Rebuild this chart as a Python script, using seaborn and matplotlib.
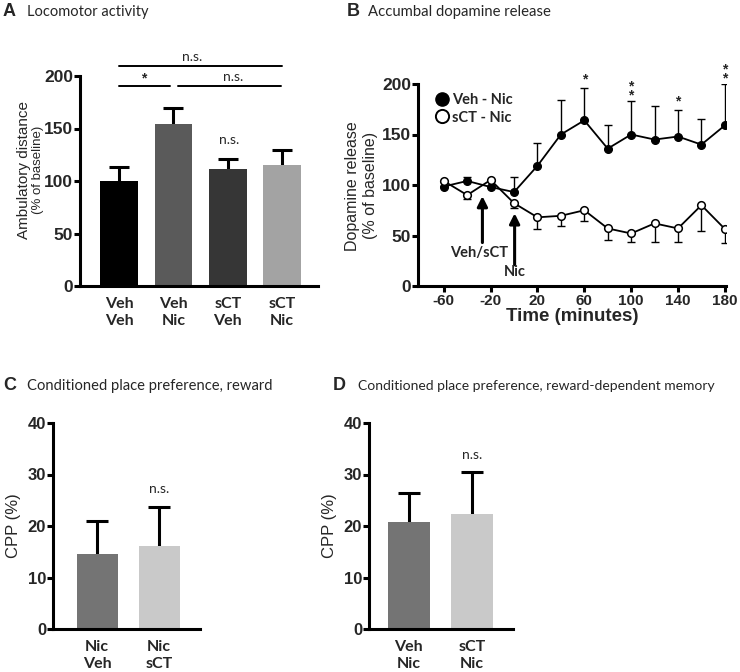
import numpy as np
import pandas as pd
import matplotlib
matplotlib.use("Agg")
import matplotlib.pyplot as plt
import seaborn as sns
from matplotlib.lines import Line2D

# ---------------- data ----------------
# Panel A: locomotor activity
loco_labels = ["Veh\nVeh", "Veh\nNic", "sCT\nVeh", "sCT\nNic"]
loco_mean = [100, 154, 111, 115]
loco_sem = [13, 16, 10, 15]
loco_colors = ["#000000", "#5a5a5a", "#363636", "#a3a3a3"]

# Panel B: accumbal dopamine release
time_min = [-60, -40, -20, 0, 20, 40, 60, 80, 100, 120, 140, 160, 180]
veh_nic_mean = [98.5, 104, 98, 93, 119, 150, 164, 136, 150, 145, 148, 140, 159]
veh_nic_sem = [1, 4, 1, 15, 23, 34, 32, 23, 33, 33, 26.5, 25.5, 41]
sct_nic_mean = [104, 90, 105, 82, 68, 69.5, 75, 57, 52, 62, 57, 80, 56.5]
sct_nic_sem = [1, 4, 1, 5, 12, 10, 11, 11, 8, 18, 13, 26, 13.5]
b_xticks = [-60, -20, 20, 60, 100, 140, 180]
b_yticks = [0, 50, 100, 150, 200]
star_times = [60, 100, 140, 180]
star_texts = ["*", "*\n*", "*", "*\n*"]

# Panel C: CPP reward
cppC_labels = ["Nic\nVeh", "Nic\nsCT"]
cppC_mean = [14.5, 16.1]
cppC_sem = [6.4, 7.5]
# Panel D: CPP reward-dependent memory
cppD_labels = ["Veh\nNic", "sCT\nNic"]
cppD_mean = [20.7, 22.4]
cppD_sem = [5.7, 8.1]
cpp_colors = ["#747474", "#c9c9c9"]

# ---------------- style ----------------
sns.set_theme(style="white")
plt.rcParams["font.family"] = ["Liberation Sans", "DejaVu Sans"]
ARIAL = "Liberation Sans"
CAL = "Lato"
LW = 2.2

W, H = 740, 672
fig = plt.figure(figsize=(W / 100, H / 100), dpi=100)
fig.patch.set_facecolor("white")


def px_axes(left, right, top, bottom):
    return fig.add_axes([left / W, 1 - bottom / H, (right - left) / W, (bottom - top) / H])


def style_axes(ax, xticks_on=False):
    for s in ["top", "right"]:
        ax.spines[s].set_visible(False)
    for s in ["left", "bottom"]:
        ax.spines[s].set_linewidth(LW)
        ax.spines[s].set_color("black")
        ax.spines[s].set_zorder(5)
    ax.set_facecolor("white")
    ax.tick_params(axis="y", which="major", direction="out", length=4, width=LW,
                   color="black", left=True, pad=1)
    if xticks_on:
        ax.tick_params(axis="x", which="major", direction="out", length=4, width=LW,
                       color="black", bottom=True, pad=2)
    else:
        ax.tick_params(axis="x", length=0, pad=8)
    ax.grid(False)


def bar_panel(ax, labels, means, sems, colors, width, capsize):
    sns.barplot(x=labels, y=means, hue=labels, palette=colors, legend=False,
                ax=ax, width=width, saturation=1, edgecolor="none", errorbar=None)
    for p in ax.patches:
        p.set_zorder(3)
    eb = ax.errorbar(np.arange(len(means)), means, yerr=[np.zeros(len(sems)), sems],
                     fmt="none", ecolor="black", elinewidth=LW, capsize=capsize,
                     capthick=LW, zorder=1)
    caplines = eb[1]
    if len(caplines) == 2:
        caplines[0].set_visible(False)  # hide lower cap (one-sided SEM)
    ax.set_xlabel("")
    for t in ax.get_xticklabels():
        t.set_fontfamily(CAL)
        t.set_fontweight("bold")
        t.set_fontsize(11.5)
        t.set_linespacing(1.3)


# ---------------- Panel A ----------------
axA = px_axes(80, 318, 76, 286)
style_axes(axA)
bar_panel(axA, loco_labels, loco_mean, loco_sem, loco_colors, 0.69, 7.5)
axA.set_ylim(0, 200)
axA.set_xlim(-0.72, 3.66)
axA.set_yticks([0, 50, 100, 150, 200])
axA.set_yticklabels([str(v) for v in [0, 50, 100, 150, 200]], fontsize=12.5,
                    fontweight="bold", fontfamily=ARIAL)
axA.set_ylabel("")
fig.text(24 / W, 1 - 170 / H, "Ambulatory distance", rotation=90, ha="center", va="center",
         fontsize=11, fontfamily=ARIAL)
fig.text(38 / W, 1 - 170 / H, "(% of baseline)", rotation=90, ha="center", va="center",
         fontsize=9.5, fontfamily=ARIAL)
# significance brackets
axA.plot([0, 3], [209.5, 209.5], color="black", lw=1.4, clip_on=False)
axA.text(1.35, 212, "n.s.", ha="center", va="bottom", fontsize=10, fontfamily=CAL)
axA.plot([0, 0.94], [190.5, 190.5], color="black", lw=1.4, clip_on=False)
axA.plot([1.09, 2.98], [190.5, 190.5], color="black", lw=1.4, clip_on=False)
axA.text(0.46, 191, "*", ha="center", va="bottom", fontsize=10, fontweight="bold",
         fontfamily=ARIAL)
axA.text(2.1, 193, "n.s.", ha="center", va="bottom", fontsize=10, fontfamily=CAL)
axA.text(2.03, 133, "n.s.", ha="center", va="bottom", fontsize=10, fontfamily=CAL)

# ---------------- Panel B ----------------
axB = px_axes(418, 726, 84, 286)
style_axes(axB, xticks_on=True)
axB.errorbar(time_min, veh_nic_mean, yerr=[np.zeros(len(veh_nic_sem)), veh_nic_sem],
             fmt="none", ecolor="black", elinewidth=1.0, capsize=3, capthick=1.0, zorder=2)
axB.errorbar(time_min, sct_nic_mean, yerr=[sct_nic_sem, np.zeros(len(sct_nic_sem))],
             fmt="none", ecolor="black", elinewidth=1.0, capsize=3, capthick=1.0, zorder=2)
sns.lineplot(x=time_min, y=veh_nic_mean, ax=axB, color="black", lw=1.3, marker="o",
             markersize=5.5, markerfacecolor="black", markeredgecolor="black",
             markeredgewidth=1.0, zorder=3)
sns.lineplot(x=time_min, y=sct_nic_mean, ax=axB, color="black", lw=1.3, marker="o",
             markersize=5.5, markerfacecolor="white", markeredgecolor="black",
             markeredgewidth=1.1, zorder=3)
axB.set_xlim(-82, 181)
axB.set_ylim(0, 200)
axB.set_xticks(b_xticks)
axB.set_xticklabels([str(v) for v in b_xticks], fontsize=11, fontweight="bold",
                    fontfamily=ARIAL)
axB.set_yticks(b_yticks)
axB.set_yticklabels([str(v) for v in b_yticks], fontsize=12.5, fontweight="bold",
                    fontfamily=ARIAL)
axB.set_ylabel("")
axB.set_xlabel("Time (minutes)", fontsize=13.5, fontweight="bold", fontfamily=ARIAL,
               labelpad=0)
fig.text(352 / W, 1 - 186 / H, "Dopamine release", rotation=90, ha="center", va="center",
         fontsize=11.5, fontfamily=ARIAL)
fig.text(371 / W, 1 - 185 / H, "(% of baseline)", rotation=90, ha="center", va="center",
         fontsize=11.5, fontfamily=ARIAL)
PXU = 202 / 200.0  # pixels per data unit in panel B
for t, s in zip(star_times, star_texts):
    idx = time_min.index(t)
    top = veh_nic_mean[idx] + veh_nic_sem[idx]
    off = 12 if s == "*" else 14
    axB.text(t, top + (off - 3.5) / PXU, s, ha="center", va="center", fontsize=10,
             fontweight="bold", fontfamily=ARIAL, linespacing=0.55, clip_on=False)
# arrows
axB.annotate("", xy=(-27, 89), xytext=(-27, 43),
             arrowprops=dict(arrowstyle="-|>", lw=2.2, color="black", mutation_scale=15,
                             shrinkA=0, shrinkB=0))
axB.text(-29.5, 33, "Veh/sCT", ha="center", va="center", fontsize=10.5,
         fontweight="bold", fontfamily=CAL)
axB.annotate("", xy=(0.5, 72), xytext=(0.5, 21),
             arrowprops=dict(arrowstyle="-|>", lw=2.2, color="black", mutation_scale=15,
                             shrinkA=0, shrinkB=0))
axB.text(1, 14, "Nic", ha="center", va="center", fontsize=10.5, fontweight="bold",
         fontfamily=CAL)
handles = [Line2D([], [], ls="", marker="o", markersize=9.5, mfc="black", mec="black"),
           Line2D([], [], ls="", marker="o", markersize=9.5, mfc="white", mec="black",
                  mew=1.4)]
leg = axB.legend(handles, ["Veh - Nic", "sCT - Nic"], loc="upper left",
                 bbox_to_anchor=(0.03, 0.985), frameon=False, handletextpad=0.1,
                 labelspacing=0.25, borderaxespad=0, handlelength=1.2,
                 prop=dict(family=CAL, weight="bold", size=10.5))

# ---------------- Panel C ----------------
axC = px_axes(53, 200, 423, 629)
style_axes(axC)
bar_panel(axC, cppC_labels, cppC_mean, cppC_sem, cpp_colors, 0.66, 8)
axC.set_ylim(0, 40)
axC.set_xlim(-0.71, 1.66)
axC.set_yticks([0, 10, 20, 30, 40])
axC.set_yticklabels(["0", "10", "20", "30", "40"], fontsize=12, fontweight="bold",
                    fontfamily=ARIAL)
axC.set_ylabel("CPP (%)", fontsize=12, fontfamily=ARIAL, labelpad=5)
axC.text(1, 26, "n.s.", ha="center", va="bottom", fontsize=10, fontfamily=CAL)

# ---------------- Panel D ----------------
axD = px_axes(369, 513, 423, 629)
style_axes(axD)
bar_panel(axD, cppD_labels, cppD_mean, cppD_sem, cpp_colors, 0.66, 8)
axD.set_ylim(0, 40)
axD.set_xlim(-0.63, 1.65)
axD.set_yticks([0, 10, 20, 30, 40])
axD.set_yticklabels(["0", "10", "20", "30", "40"], fontsize=12, fontweight="bold",
                    fontfamily=ARIAL)
axD.set_ylabel("CPP (%)", fontsize=12, fontfamily=ARIAL, labelpad=5)
axD.text(1, 32.6, "n.s.", ha="center", va="bottom", fontsize=10, fontfamily=CAL)

# ---------------- panel titles ----------------
def title(xl, xt, y, letter, text, size):
    fig.text(xl / W, 1 - y / H, letter, fontsize=13, fontweight="bold", fontfamily=ARIAL,
             ha="left", va="center")
    fig.text(xt / W, 1 - y / H, text, fontsize=size, fontfamily=CAL, ha="left", va="center")

title(3, 27, 12, "A", "Locomotor activity", 10.5)
title(347, 368, 12, "B", "Accumbal dopamine release", 10.7)
title(3, 27, 386, "C", "Conditioned place preference, reward", 10.6)
title(333, 358, 386, "D", "Conditioned place preference, reward-dependent memory", 10.0)

fig.savefig("out.png", dpi=100, facecolor="white")
